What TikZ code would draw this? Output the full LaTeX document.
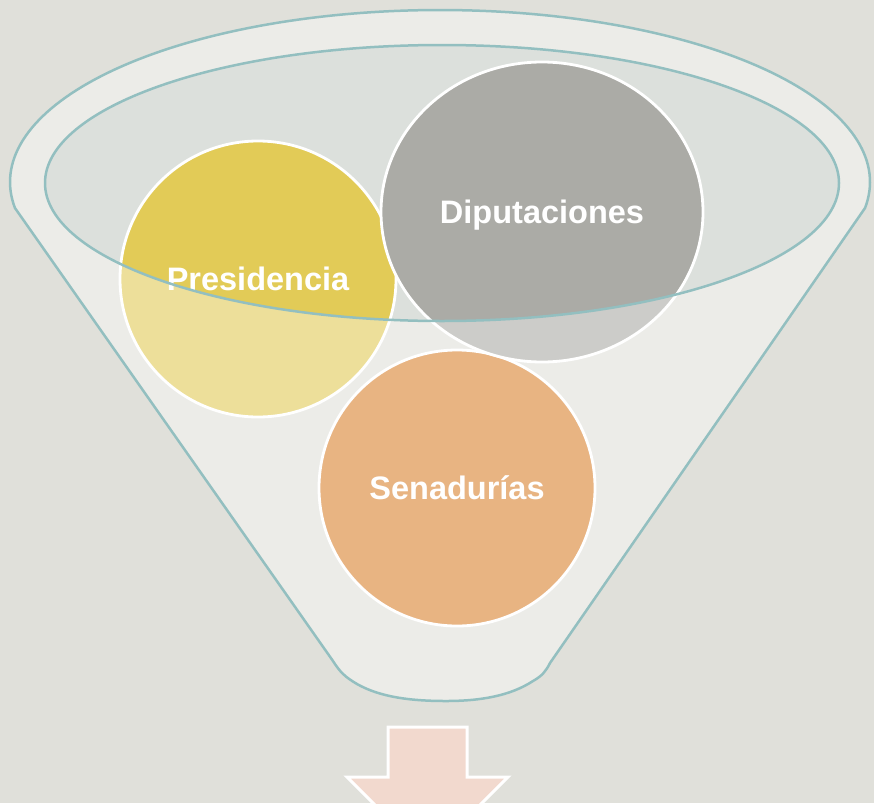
\documentclass[tikz,border=0pt]{standalone}
\usepackage{fontspec}
\setmainfont{Liberation Sans}
\usetikzlibrary{shapes.geometric}
\definecolor{bgc}{HTML}{E0E0DA}
\definecolor{mouth}{HTML}{DCE0DC}
\definecolor{rim}{HTML}{93BFC0}
\definecolor{presc}{HTML}{E2CB57}
\definecolor{dipc}{HTML}{ABABA6}
\definecolor{senc}{HTML}{D98230}
\definecolor{arrc}{HTML}{F2D9CE}
\begin{document}
\begin{tikzpicture}[x=1pt,y=-1pt,
  bubble/.style={circle, draw=white, line width=2.8pt, text=white,
    font=\bfseries\fontsize{32.5}{39}\selectfont,
    text height=23.3pt, text depth=0pt, inner sep=0pt},
  rimline/.style={draw=rim, line width=2.5pt, line join=round},
  frontglass/.style={fill=white, fill opacity=0.4, even odd rule},
  arrowbox/.style={draw=white, line width=3pt, fill=arrc, line join=miter}]
\useasboundingbox (0,0) rectangle (874,803);
\clip (0,0) rectangle (874,803);
\fill[bgc] (0,0) rectangle (874,803);
\def\funnelpath{plot[domain=188.7:-8.7, samples=140] ({440+430*cos(\x)},{182-172*sin(\x)})
  -- (550,663) .. controls (546,671) and (542,676) .. (533,681)
  .. controls (510,696) and (480,701) .. (446,701)
  .. controls (410,701) and (380,697) .. (357,684)
  .. controls (345,677) and (340,672) .. (333,661) -- cycle}
% mouth of the funnel
\fill[mouth] (442,183) ellipse [x radius=397, y radius=138];
% bubbles
\node[bubble, fill=presc, minimum size=276pt] (pres) at (258,279) {Presidencia};
\node[bubble, fill=senc, minimum size=276pt] (sen) at (457,488) {Senadur\'{\i}as};
\node[bubble, ellipse, fill=dipc, minimum width=322pt, minimum height=300pt] (dip) at (542,212) {Diputaciones};
% front glass of the funnel
\fill[frontglass] \funnelpath (442,183) ellipse [x radius=397, y radius=138];
% outlines
\draw[rimline] \funnelpath;
\draw[rimline] (442,183) ellipse [x radius=397, y radius=138];
% arrow
\draw[arrowbox] (388,727) -- (467,727) -- (467,777) -- (508,777) -- (427.5,857.5)
  -- (347,777) -- (388,777) -- cycle;
\end{tikzpicture}
\end{document}
